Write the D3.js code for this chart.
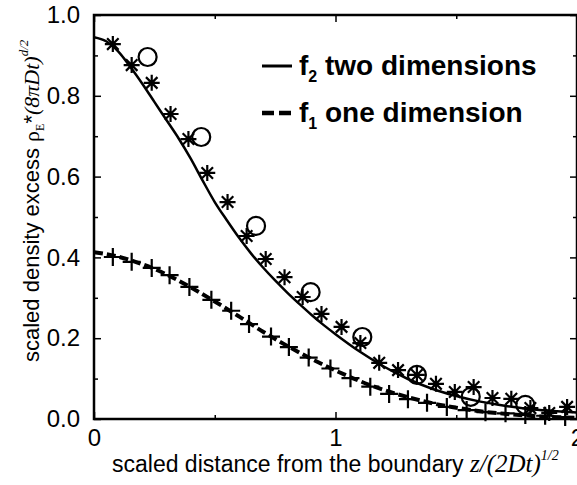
<!DOCTYPE html>
<html>
<head>
<meta charset="utf-8">
<script src="https://cdn.jsdelivr.net/npm/d3@7"></script>
<style>
  body { margin: 0; background: #fff; }
  svg { display: block; font-family: "Liberation Sans", Arial, sans-serif; }
</style>
</head>
<body>
<div id="chart"></div>
<script>
// theory curves
const f2X = [0, 0.05, 0.1, 0.15, 0.2, 0.25, 0.3, 0.35, 0.4, 0.45, 0.5, 0.55, 0.6, 0.65, 0.7, 0.75, 0.8, 0.85, 0.9, 0.95, 1.0, 1.1, 1.2, 1.3, 1.4, 1.5, 1.6, 1.7, 1.8, 1.9, 2.0];
const f2Y = [0.945, 0.935, 0.91, 0.872, 0.83, 0.785, 0.74, 0.695, 0.645, 0.59, 0.537, 0.492, 0.449, 0.41, 0.375, 0.343, 0.313, 0.285, 0.258, 0.233, 0.21, 0.167, 0.13, 0.099, 0.075, 0.057, 0.043, 0.033, 0.025, 0.02, 0.016];

const f1X = [0, 0.1, 0.2, 0.3, 0.4, 0.5, 0.6, 0.7, 0.8, 0.9, 1.0, 1.1, 1.2, 1.3, 1.4, 1.5, 1.6, 1.7, 1.8, 1.9, 2.0];
const f1Y = [0.413, 0.402, 0.383, 0.358, 0.326, 0.291, 0.254, 0.216, 0.181, 0.149, 0.12, 0.094, 0.072, 0.054, 0.039, 0.028, 0.019, 0.013, 0.008, 0.005, 0.003];

// simulation points
const starX = [0.078, 0.156, 0.239, 0.317, 0.391, 0.469, 0.553, 0.632, 0.711, 0.789, 0.864, 0.942, 1.025, 1.103, 1.181, 1.259, 1.337, 1.416, 1.494, 1.572, 1.650, 1.728, 1.807, 1.885, 1.959];
const starY = [0.928, 0.876, 0.832, 0.755, 0.693, 0.609, 0.537, 0.453, 0.396, 0.351, 0.302, 0.260, 0.228, 0.188, 0.139, 0.121, 0.109, 0.087, 0.067, 0.079, 0.052, 0.050, 0.027, 0.015, 0.030];

const circX = [0.222, 0.444, 0.671, 0.897, 1.111, 1.337, 1.560, 1.786];
const circY = [0.896, 0.698, 0.478, 0.314, 0.203, 0.109, 0.055, 0.035];

const plusX = [0.078, 0.156, 0.239, 0.313, 0.395, 0.486, 0.568, 0.642, 0.733, 0.807, 0.889, 0.979, 1.062, 1.144, 1.222, 1.300, 1.379, 1.461, 1.543, 1.621, 1.704, 1.786, 1.868, 1.951];
const plusY = [0.401, 0.389, 0.374, 0.356, 0.327, 0.295, 0.268, 0.235, 0.204, 0.178, 0.152, 0.125, 0.101, 0.080, 0.062, 0.049, 0.040, 0.030, 0.022, 0.017, 0.014, 0.010, 0.008, 0.005];

const yMajor = [0, 0.2, 0.4, 0.6, 0.8, 1.0];
const yMinor = [0.1, 0.3, 0.5, 0.7, 0.9];
const xMajor = [0, 1, 2];
const xMinor = [0.5, 1.5];

const W = 577, H = 485;
const plotL = 94, plotR = 577, plotT = 15, plotB = 419;

const svg = d3.select("#chart").append("svg")
    .attr("width", W)
    .attr("height", H);

const x = d3.scaleLinear().domain([0, 2]).range([plotL, plotR]);
const y = d3.scaleLinear().domain([0, 1]).range([plotB, plotT]);

const zip = (xs, ys) => xs.map((v, i) => ({ x: v, y: ys[i] }));

// ticks: all pointing inward, on all four sides
function tickAxis(axis, vals, size, fmt, pad, tr) {
    const g = svg.append("g")
        .attr("transform", tr)
        .call(axis.tickValues(vals).tickSize(size).tickPadding(pad).tickFormat(fmt));
    g.select(".domain").remove();
    g.selectAll("line").attr("stroke", "#000").attr("stroke-width", 1.5);
    g.selectAll("text").attr("fill", "#000").style("font-size", "24px")
        .style("font-family", "Liberation Sans, Arial, sans-serif");
    return g;
}

tickAxis(d3.axisLeft(y), yMajor, -7, d3.format(".1f"), 14, `translate(${plotL},0)`);
tickAxis(d3.axisLeft(y), yMinor, -4, "", 14, `translate(${plotL},0)`);
tickAxis(d3.axisRight(y), yMajor, -7, "", 0, `translate(${plotR},0)`);
tickAxis(d3.axisRight(y), yMinor, -4, "", 0, `translate(${plotR},0)`);
tickAxis(d3.axisBottom(x), xMajor, -7, d3.format("d"), 10, `translate(0,${plotB})`);
tickAxis(d3.axisBottom(x), xMinor, -4, "", 10, `translate(0,${plotB})`);
tickAxis(d3.axisTop(x), xMajor, -7, "", 0, `translate(0,${plotT})`);
tickAxis(d3.axisTop(x), xMinor, -4, "", 0, `translate(0,${plotT})`);

// frame
svg.append("rect")
    .attr("x", plotL).attr("y", plotT)
    .attr("width", plotR - plotL).attr("height", plotB - plotT)
    .attr("fill", "none")
    .attr("stroke", "#000")
    .attr("stroke-width", 2.5);

// curves
const line = d3.line()
    .x(d => x(d.x))
    .y(d => y(d.y))
    .curve(d3.curveMonotoneX);

svg.append("path")
    .datum(zip(f2X, f2Y))
    .attr("fill", "none")
    .attr("stroke", "#000")
    .attr("stroke-width", 2.5)
    .attr("d", line);

svg.append("path")
    .datum(zip(f1X, f1Y))
    .attr("fill", "none")
    .attr("stroke", "#000")
    .attr("stroke-width", 4)
    .attr("stroke-dasharray", "9,4")
    .attr("d", line);

// markers
const r = 8;
svg.append("g").selectAll("path")
    .data(zip(starX, starY))
    .join("path")
    .attr("transform", d => `translate(${x(d.x)},${y(d.y)})`)
    .attr("d", () => {
        const a = r * 0.72;
        return `M0,${-r}V${r}M${-r},0H${r}M${-a},${-a}L${a},${a}M${-a},${a}L${a},${-a}`;
    })
    .attr("stroke", "#000")
    .attr("stroke-width", 2.2)
    .attr("fill", "none");

svg.append("g").selectAll("circle")
    .data(zip(circX, circY))
    .join("circle")
    .attr("cx", d => x(d.x))
    .attr("cy", d => y(d.y))
    .attr("r", 9)
    .attr("fill", "none")
    .attr("stroke", "#000")
    .attr("stroke-width", 2.2);

svg.append("g").selectAll("path")
    .data(zip(plusX, plusY))
    .join("path")
    .attr("transform", d => `translate(${x(d.x)},${y(d.y)})`)
    .attr("d", `M0,-9V9M-9,0H9`)
    .attr("stroke", "#000")
    .attr("stroke-width", 2.2)
    .attr("fill", "none");

// legend
const legend = svg.append("g").style("font-weight", "bold").style("font-size", "28px");
legend.append("line")
    .attr("x1", 262).attr("x2", 292).attr("y1", 66).attr("y2", 66)
    .attr("stroke", "#000").attr("stroke-width", 3);
legend.append("line")
    .attr("x1", 262).attr("x2", 292).attr("y1", 113).attr("y2", 113)
    .attr("stroke", "#000").attr("stroke-width", 4.5)
    .attr("stroke-dasharray", "12,5");

const l1 = legend.append("text").attr("x", 299).attr("y", 75);
l1.append("tspan").text("f");
l1.append("tspan").attr("dy", 7).style("font-size", "16px").text("2");
l1.append("tspan").attr("dy", -7).text(" two dimensions");

const l2 = legend.append("text").attr("x", 299).attr("y", 122);
l2.append("tspan").text("f");
l2.append("tspan").attr("dy", 7).style("font-size", "16px").text("1");
l2.append("tspan").attr("dy", -7).text(" one dimension");

// axis titles
const serif = "Liberation Serif, Times New Roman, serif";

const xt = svg.append("text")
    .attr("x", 112).attr("y", 472)
    .style("font-size", "23px");
xt.append("tspan").text("scaled distance from the boundary ");
xt.append("tspan").style("font-family", serif).style("font-style", "italic")
    .style("font-size", "25px").text("z/(2Dt)");
xt.append("tspan").attr("dy", -12).style("font-family", serif).style("font-style", "italic")
    .style("font-size", "14px").text("1/2");

const yt = svg.append("text")
    .attr("transform", "translate(39,362) rotate(-90)")
    .style("font-size", "22px");
yt.append("tspan").text("scaled density excess ");
yt.append("tspan").style("font-family", serif).text("ρ");
yt.append("tspan").attr("dy", 5).style("font-family", serif).style("font-size", "12px").text("E");
yt.append("tspan").attr("dy", -5).text("*");
yt.append("tspan").style("font-family", serif).style("font-style", "italic").text("(8πDt)");
yt.append("tspan").attr("dy", -11).style("font-family", serif).style("font-style", "italic")
    .style("font-size", "13px").text("d/2");
</script>
</body>
</html>
